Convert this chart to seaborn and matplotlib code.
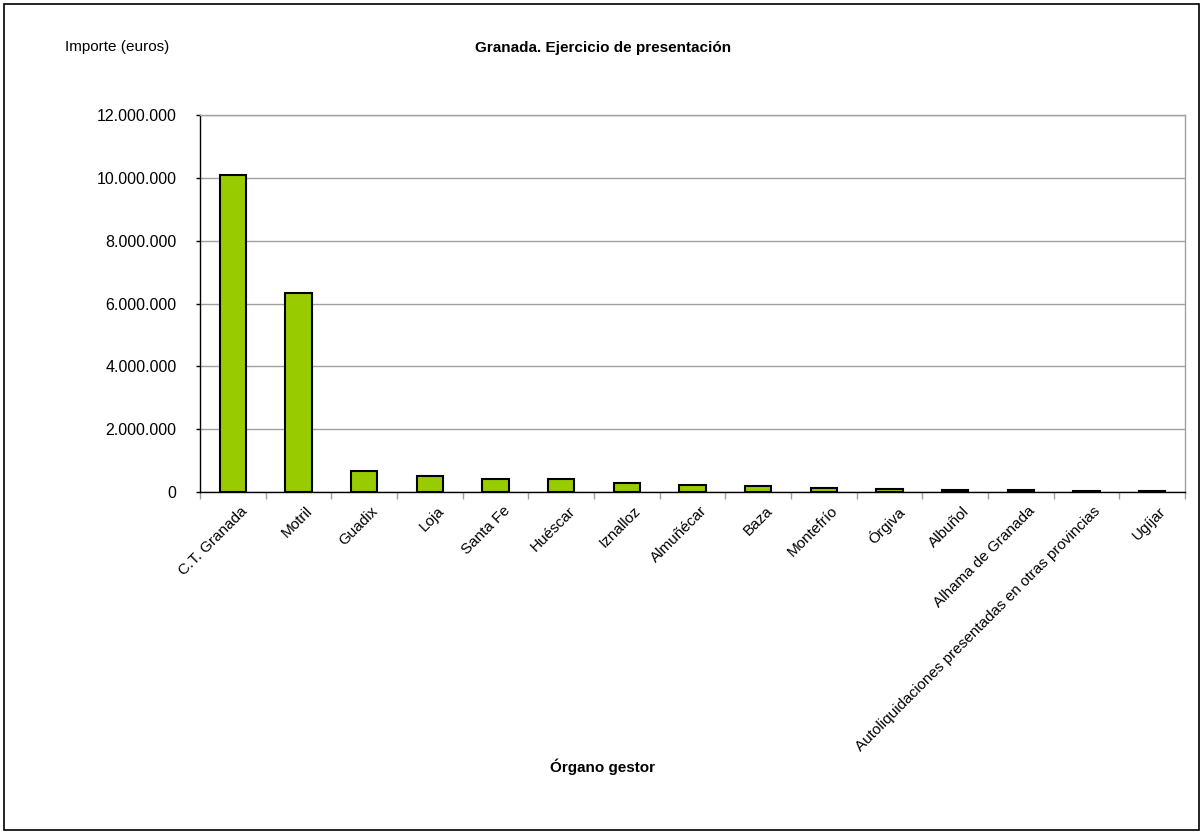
import matplotlib
matplotlib.use("Agg")
import matplotlib.pyplot as plt
import matplotlib.transforms as mtransforms
import seaborn as sns
import pandas as pd
import numpy as np
from matplotlib.ticker import FuncFormatter, FixedLocator
from matplotlib.patches import Rectangle

categories = ["C.T. Granada", "Motril", "Guadix", "Loja", "Santa Fe", "Huéscar", "Iznalloz",
              "Almuñécar", "Baza", "Montefrío", "Órgiva", "Albuñol", "Alhama de Granada",
              "Autoliquidaciones presentadas en otras provincias", "Ugíjar"]
values = [10100000, 6320000, 680000, 500000, 410000, 400000, 280000,
          220000, 190000, 140000, 80000, 50000, 50000, 40000, 30000]
yticks = [0, 2000000, 4000000, 6000000, 8000000, 10000000, 12000000]

sns.set_theme(style="white")
plt.rcParams['font.family'] = ['Liberation Sans', 'DejaVu Sans']
plt.rcParams['text.color'] = 'black'
plt.rcParams['xtick.color'] = 'black'
plt.rcParams['ytick.color'] = 'black'
plt.rcParams['xtick.labelcolor'] = 'black'
plt.rcParams['ytick.labelcolor'] = 'black'

df = pd.DataFrame({"cat": categories, "val": values})

fig = plt.figure(figsize=(12.03, 8.32), dpi=100)
ax = fig.add_axes([200/1203, 1-492/832, 985/1203, 377/832])

sns.barplot(data=df, x="cat", y="val", color="#99CC00", width=0.4,
            edgecolor="black", linewidth=1.5, saturation=1, ax=ax)

ax.set_ylim(0, 12000000)
ax.set_xlim(-0.5, len(categories) - 0.5)
ax.set_yticks(yticks)
ax.yaxis.set_major_formatter(FuncFormatter(lambda v, p: f"{int(v):,}".replace(",", ".")))
ax.yaxis.grid(True, color="#a0a0a0", linewidth=1)
ax.set_axisbelow(True)
ax.tick_params(axis="y", left=True, length=3, width=1, color="black", labelsize=11.5, pad=14)
ax.set_xticks(range(len(categories)))
ax.set_xticklabels(categories, rotation=45, ha="right", rotation_mode="anchor", fontsize=11)
ax.tick_params(axis="x", bottom=False, pad=4)
offset = mtransforms.ScaledTranslation(7/100, 2/100, fig.dpi_scale_trans)
for lbl in ax.get_xticklabels():
    lbl.set_transform(lbl.get_transform() + offset)
ax.xaxis.set_minor_locator(FixedLocator(np.arange(-0.5, len(categories), 1)))
ax.tick_params(axis="x", which="minor", bottom=True, length=5, width=1, color="#a0a0a0")
ax.set_xlabel("")
ax.set_ylabel("")

for s in ["left", "bottom"]:
    ax.spines[s].set_color("black")
    ax.spines[s].set_linewidth(1)
for s in ["top", "right"]:
    ax.spines[s].set_color("#a0a0a0")
    ax.spines[s].set_linewidth(1)

fig.text(603/1203, 1-48/832, "Granada. Ejercicio de presentación", ha="center", va="center",
         fontsize=11, fontweight="bold", color="black")
fig.text(117/1203, 1-47/832, "Importe (euros)", ha="center", va="center", fontsize=11, color="black")
fig.text(603/1203, 1-767/832, "Órgano gestor", ha="center", va="center", fontsize=11,
         fontweight="bold", color="black")

fig.patches.append(Rectangle((4/1203, 2/832), 1-8/1203, 1-6/832, transform=fig.transFigure,
                             fill=False, edgecolor="black", linewidth=1.2))

fig.savefig("out.png", dpi=100, facecolor="white")
